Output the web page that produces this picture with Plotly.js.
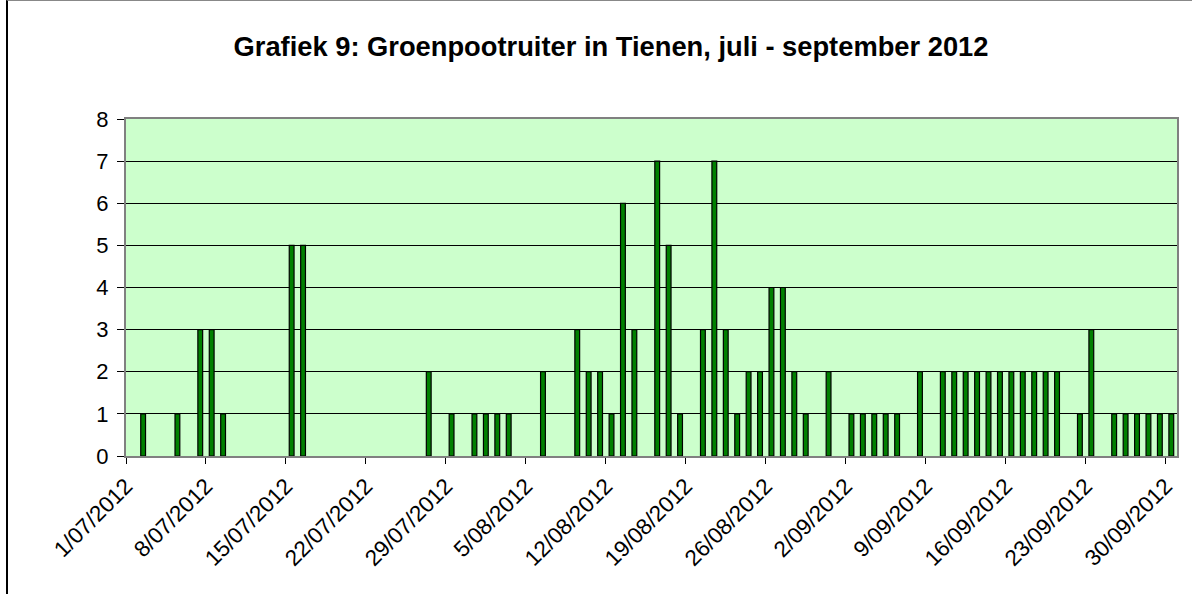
<!DOCTYPE html>
<html>
<head>
<meta charset="utf-8">
<script src="https://cdn.plot.ly/plotly-3.0.1.min.js"></script>
<style>
html,body{margin:0;padding:0;background:#fff;overflow:hidden;}
#chart{position:absolute;left:0;top:0;width:1192px;height:594px;}
#frame{position:absolute;left:6px;top:0;width:1300px;height:700px;border-left:2px solid #000;border-top:1px solid #888;pointer-events:none;}
</style>
</head>
<body>
<div id="chart"></div>
<div id="frame"></div>
<script>
var titleText = "Grafiek 9: Groenpootruiter in Tienen, juli - september 2012";

var dates = [
  "2012-07-02","2012-07-05","2012-07-07","2012-07-08","2012-07-09",
  "2012-07-15","2012-07-16","2012-07-27","2012-07-29","2012-07-31",
  "2012-08-01","2012-08-02","2012-08-03","2012-08-06","2012-08-09",
  "2012-08-10","2012-08-11","2012-08-12","2012-08-13","2012-08-14",
  "2012-08-16","2012-08-17","2012-08-18","2012-08-20","2012-08-21",
  "2012-08-22","2012-08-23","2012-08-24","2012-08-25","2012-08-26",
  "2012-08-27","2012-08-28","2012-08-29","2012-08-31",
  "2012-09-02","2012-09-03","2012-09-04","2012-09-05","2012-09-06",
  "2012-09-08","2012-09-10","2012-09-11","2012-09-12","2012-09-13",
  "2012-09-14","2012-09-15","2012-09-16","2012-09-17","2012-09-18",
  "2012-09-19","2012-09-20","2012-09-22","2012-09-23",
  "2012-09-25","2012-09-26","2012-09-27","2012-09-28","2012-09-29","2012-09-30"
];
var counts = [
  1,1,3,3,1,
  5,5,2,1,1,
  1,1,1,2,3,
  2,2,1,6,3,
  7,5,1,3,7,
  3,1,2,2,4,
  4,2,1,2,
  1,1,1,1,1,
  2,2,2,2,2,
  2,2,2,2,2,
  2,2,1,3,
  1,1,1,1,1,1
];
var xRange = ["2012-07-01","2012-10-01"];
var yTicks = [0,1,2,3,4,5,6,7,8];

var DAY = 86400000;

var trace = {
  type: "bar",
  x: dates,
  y: counts,
  xperiod: DAY,
  xperiodalignment: "middle",
  width: 0.42 * DAY,
  marker: {color: "#008000", line: {color: "#000000", width: 1.2}},
  hoverinfo: "x+y"
};

var layout = {
  width: 1192, height: 594,
  paper_bgcolor: "rgba(0,0,0,0)",
  plot_bgcolor: "#CCFFCC",
  margin: {l: 126, r: 15, t: 119, b: 138, pad: 0},
  font: {family: "Liberation Sans, Arial, sans-serif", color: "#000", size: 22},
  title: {
    text: "<b>" + titleText + "</b>",
    x: 611/1192, xanchor: "center",
    y: 1 - 46/594, yanchor: "middle",
    font: {size: 27.3, family: "Liberation Sans, Arial, sans-serif", color: "#000"}
  },
  showlegend: false,
  bargap: 0,
  xaxis: {
    type: "date",
    range: xRange,
    tick0: "2012-07-01",
    dtick: 7 * DAY,
    tickformat: "%-d/%m/%Y",
    tickangle: -45,
    ticks: "outside",
    ticklen: 6,
    tickcolor: "#000",
    tickwidth: 1,
    showgrid: false,
    showline: true,
    linecolor: "#808080",
    linewidth: 2,
    mirror: true,
    zeroline: false,
    fixedrange: true,
    tickfont: {size: 22.5}
  },
  yaxis: {
    range: [0, 8],
    tickvals: yTicks,
    ticktext: yTicks.map(String),
    ticks: "outside",
    ticklen: 7,
    tickcolor: "#000",
    tickwidth: 1,
    ticklabelstandoff: 4,
    showgrid: true,
    gridcolor: "#000000",
    gridwidth: 1,
    showline: true,
    linecolor: "#808080",
    linewidth: 2,
    mirror: true,
    zeroline: false,
    fixedrange: true,
    tickfont: {size: 22}
  }
};

Plotly.newPlot("chart", [trace], layout, {displayModeBar: false, staticPlot: true});
</script>
</body>
</html>
